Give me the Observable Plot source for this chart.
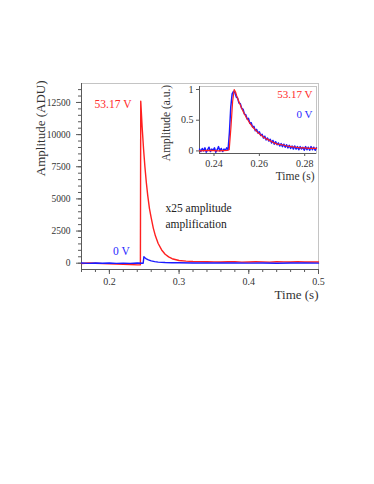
<!DOCTYPE html>
<html><head><meta charset="utf-8">
<script src="https://cdn.jsdelivr.net/npm/d3@7"></script>
<script src="https://cdn.jsdelivr.net/npm/@observablehq/plot@0.6"></script>
<style>
html,body{margin:0;padding:0;background:#fff;}
#wrap{position:relative;width:374px;height:484px;font-family:"Liberation Serif",serif;}
#main{position:absolute;left:0;top:0;}
#inset{position:absolute;left:150px;top:78px;}
</style></head><body><div id="wrap"><div id="main"></div><div id="inset"></div></div>
<script>
// ---------- main panel data ----------
const mainRedT = [0.16,0.17,0.18,0.19,0.20,0.21,0.22,0.23,0.24,0.2445,0.2450,0.2470,0.2490,0.2510,0.2530,0.2550,0.2575,0.2600,0.2630,0.2660,0.2700,0.2750,0.2800,0.2850,0.2900,0.3000,0.3100,0.3200,0.3300,0.3400,0.3500,0.3600,0.3700,0.3800,0.3900,0.4000,0.4100,0.4200,0.4300,0.4400,0.4500,0.4600,0.4700,0.4800,0.4900,0.5000];
const mainRedV = [-20,10,0,-30,-40,-60,-80,-100,-130,-120,12600,10590,8900,7480,6280,5280,4250,3520,2730,2130,1530,1030,700,490,350,210,160,130,120,110,100,90,110,120,80,90,110,100,80,110,100,90,120,90,100,95];
const mainBlueT = [0.16,0.17,0.18,0.19,0.20,0.21,0.22,0.23,0.24,0.2485,0.2495,0.2510,0.2530,0.2560,0.2600,0.2650,0.2700,0.2800,0.2900,0.3000,0.3200,0.3400,0.3600,0.3800,0.4000,0.4200,0.4400,0.4600,0.4800,0.5000];
const mainBlueV = [10,-10,15,-5,10,-15,5,-10,10,0,500,420,340,260,180,120,80,50,40,30,20,10,15,20,5,15,0,10,10,5];

const xMain = [0.16, 0.5];
const yMain = [-490, 13975];
const xMajorTicks = [0.2, 0.3, 0.4, 0.5];
const xMinorTicks = [0.16,0.18,0.20,0.22,0.24,0.26,0.28,0.30,0.32,0.34,0.36,0.38,0.40,0.42,0.44,0.46,0.48,0.50];
const yMajorTicks = [0, 2500, 5000, 7500, 10000, 12500];
const yMinorTicks = [0,500,1000,1500,2000,2500,3000,3500,4000,4500,5000,5500,6000,6500,7000,7500,8000,8500,9000,9500,10000,10500,11000,11500,12000,12500,13000,13500];

const mainLabels = ["53.17 V", "0 V", "x25 amplitude", "amplification"];
const mainLabelX = [0.2317, 0.2293, 0.2805, 0.2805];
const mainLabelY = [12320, 908, 4250, 3060];
const mainLabelColor = ["#ff2a2a", "#2a2aff", "#222", "#222"];
const mainLabelAnchor = ["end", "end", "start", "start"];

// ---------- inset data ----------
const insetRedT = [0.2336,0.2380,0.2420,0.2460,0.2467,0.2475,0.2482,0.2489,0.2495,0.2500,0.2510,0.2520,0.2530,0.2540,0.2550,0.2560,0.2570,0.2580,0.2590,0.2600,0.2620,0.2640,0.2660,0.2680,0.2700,0.2720,0.2740,0.2760,0.2780,0.2800,0.2820,0.2852];
const insetRedV = [0.00,0.01,0.00,0.01,0.02,0.40,0.80,1.00,0.96,0.90,0.80,0.71,0.63,0.56,0.50,0.44,0.39,0.35,0.31,0.28,0.22,0.18,0.14,0.11,0.10,0.08,0.07,0.06,0.05,0.05,0.04,0.04];
const insetBlueT = [0.2336,0.2342,0.2348,0.2354,0.2360,0.2366,0.2372,0.2378,0.2384,0.2390,0.2396,0.2402,0.2408,0.2414,0.2420,0.2426,0.2432,0.2438,0.2444,0.2450,0.2456,0.2462,0.2468,0.2474,0.2480,0.2486,0.2492,0.2498,0.2504,0.2510,0.2516,0.2522,0.2528,0.2534,0.2540,0.2546,0.2552,0.2558,0.2564,0.2570,0.2576,0.2582,0.2588,0.2594,0.2600,0.2606,0.2612,0.2618,0.2624,0.2630,0.2636,0.2642,0.2648,0.2654,0.2660,0.2666,0.2672,0.2678,0.2684,0.2690,0.2696,0.2702,0.2708,0.2714,0.2720,0.2726,0.2732,0.2738,0.2744,0.2750,0.2756,0.2762,0.2768,0.2774,0.2780,0.2786,0.2792,0.2798,0.2804,0.2810,0.2816,0.2822,0.2828,0.2834,0.2840,0.2846,0.2852];
const insetBlueV = [0.03,-0.01,0.04,0.00,0.05,-0.02,0.02,0.06,-0.01,0.03,0.01,0.05,-0.02,0.02,0.07,0.00,0.04,-0.01,0.03,0.01,0.05,0.02,0.30,0.72,0.93,0.97,0.95,0.88,0.86,0.78,0.77,0.69,0.68,0.60,0.59,0.52,0.53,0.45,0.46,0.39,0.40,0.33,0.35,0.29,0.31,0.25,0.27,0.21,0.24,0.18,0.21,0.16,0.19,0.13,0.17,0.11,0.15,0.10,0.13,0.08,0.12,0.07,0.11,0.06,0.10,0.05,0.09,0.04,0.08,0.03,0.08,0.03,0.07,0.02,0.07,0.03,0.06,0.01,0.07,0.02,0.06,0.01,0.07,0.02,0.06,0.01,0.05];

const xInset = [0.2336, 0.2852];
const yInset = [-0.042, 1.049];
const xInsetTicks = [0.24, 0.26, 0.28];
const yInsetTicks = [0, 0.5, 1];
const insetLabels = ["53.17 V", "0 V"];
const insetLabelX = [0.2834, 0.2834];
const insetLabelY = [0.92, 0.60];
const insetLabelColor = ["#ff2a2a", "#2a2aff"];

const RED = "#ff2020", BLUE = "#1a1aff";
const AX = "#5a5a5a", FR = "#c4c4c4", TXT = "#333";
const FONT = '"Liberation Serif", "Times New Roman", serif';

const pts = (T, V) => T.map((t, i) => ({t, v: V[i]}));
const fmt = d => String(d);

// ---------- main plot ----------
const mainPlot = Plot.plot({
  width: 374, height: 320,
  marginLeft: 81, marginRight: 56, marginTop: 83, marginBottom: 51,
  style: {fontFamily: FONT, background: "transparent", overflow: "visible"},
  x: {domain: xMain},
  y: {domain: yMain},
  marks: [
    Plot.frame({stroke: FR}),
    Plot.axisX({ticks: xMinorTicks, tickSize: 3, tickFormat: () => "", stroke: AX, label: null}),
    Plot.axisX({ticks: xMajorTicks, tickSize: 5, tickPadding: 3, tickFormat: fmt, stroke: AX, fill: TXT, fontSize: 10, label: null}),
    Plot.axisY({ticks: yMinorTicks, tickSize: 3, tickFormat: () => "", stroke: AX, label: null}),
    Plot.axisY({ticks: yMajorTicks, tickSize: 5, tickPadding: 6, tickFormat: fmt, stroke: AX, fill: TXT, fontSize: 9.5, label: null}),
    Plot.ruleX([xMain[0]], {stroke: AX}),
    Plot.ruleY([yMain[0]], {stroke: AX}),
    Plot.line(pts(mainRedT, mainRedV), {x: "t", y: "v", stroke: RED, strokeWidth: 1.4}),
    Plot.line(pts(mainBlueT, mainBlueV), {x: "t", y: "v", stroke: BLUE, strokeWidth: 1.4}),
    ...mainLabels.map((s, i) => Plot.text([s], {x: () => mainLabelX[i], y: () => mainLabelY[i], text: d => d,
      fill: mainLabelColor[i], textAnchor: mainLabelAnchor[i], fontSize: 11.5})),
    Plot.text(["Amplitude (ADU)"], {frameAnchor: "top-left", text: d => d, rotate: -90, textAnchor: "end",
      dx: -46, dy: -3, fontSize: 13, fill: TXT}),
    Plot.text(["Time (s)"], {frameAnchor: "bottom-right", text: d => d, textAnchor: "end", dy: 29, fontSize: 13, fill: TXT})
  ]
});
document.getElementById("main").appendChild(mainPlot);

// ---------- inset plot ----------
const insetPlot = Plot.plot({
  width: 180, height: 112,
  marginLeft: 49, marginRight: 14, marginTop: 8, marginBottom: 37,
  style: {fontFamily: FONT, background: "transparent", overflow: "visible"},
  x: {domain: xInset},
  y: {domain: yInset},
  marks: [
    Plot.frame({stroke: FR, fill: "white"}),
    Plot.axisX({ticks: xInsetTicks, tickSize: 3, tickPadding: 3, tickFormat: fmt, stroke: AX, fill: TXT, fontSize: 10, label: null}),
    Plot.axisY({ticks: yInsetTicks, tickSize: 3, tickPadding: 3, tickFormat: fmt, stroke: AX, fill: TXT, fontSize: 10, label: null}),
    Plot.ruleX([xInset[0]], {stroke: AX}),
    Plot.ruleY([yInset[0]], {stroke: AX}),
    Plot.line(pts(insetBlueT, insetBlueV), {x: "t", y: "v", stroke: BLUE, strokeWidth: 1.5}),
    Plot.line(pts(insetRedT, insetRedV), {x: "t", y: "v", stroke: RED, strokeWidth: 1.2}),
    ...insetLabels.map((s, i) => Plot.text([s], {x: () => insetLabelX[i], y: () => insetLabelY[i], text: d => d,
      fill: insetLabelColor[i], textAnchor: "end", fontSize: 11})),
    Plot.text(["Amplitude (a.u.)"], {frameAnchor: "left", text: d => d, rotate: -90, textAnchor: "middle",
      dx: -33, dy: 3, fontSize: 11.5, fill: TXT}),
    Plot.text(["Time (s)"], {frameAnchor: "bottom-right", text: d => d, textAnchor: "end", dx: -2, dy: 26, fontSize: 11.5, fill: TXT})
  ]
});
document.getElementById("inset").appendChild(insetPlot);
</script></body></html>
